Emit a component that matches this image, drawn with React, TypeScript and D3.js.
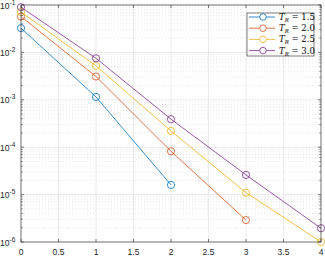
import React from 'react';
import * as d3 from 'd3';

const xValues = [0, 1, 2, 3, 4];
const seriesNames = ['1.5', '2.0', '2.5', '3.0'];
const seriesColors = ['#0072BD', '#D95319', '#EDB120', '#7E2F8E'];
const tr15 = [0.0325, 1.15e-3, 1.6e-5];
const tr20 = [0.057, 3.1e-3, 8.2e-5, 2.9e-6];
const tr25 = [0.071, 5.2e-3, 2.2e-4, 1.1e-5, 1.0e-6];
const tr30 = [0.09, 7.5e-3, 3.9e-4, 2.6e-5, 1.95e-6];
const xTicks = [0, 0.5, 1, 1.5, 2, 2.5, 3, 3.5, 4];
const yExponents = [-1, -2, -3, -4, -5, -6];

const W = 325;
const H = 257;
const margin = { top: 5, right: 4, bottom: 15, left: 21 };

export default function App() {
  const allSeries = [tr15, tr20, tr25, tr30];
  const x = d3.scaleLinear().domain([0, 4]).range([margin.left, W - margin.right]);
  const y = d3.scaleLog().domain([1e-6, 1e-1]).range([H - margin.bottom, margin.top]);
  const [x0, x1] = x.range();
  const [y1, y0] = y.range();

  const minorY: number[] = [];
  for (let e = -6; e < -1; e++) {
    for (let m = 2; m <= 9; m++) minorY.push(m * Math.pow(10, e));
  }

  const line = d3.line<number>()
    .x((_, i) => x(xValues[i]))
    .y(d => y(d));

  const axisColor = '#262626';
  const font = 'Liberation Sans, Arial, sans-serif';

  return (
    <div style={{ position: 'absolute', left: 0, top: 0 }}>
      <svg width={W} height={H} style={{ display: 'block', background: '#fff' }}>
        {/* minor grid */}
        {minorY.map(v => (
          <line key={'m' + v} x1={x0} x2={x1} y1={y(v)} y2={y(v)}
            stroke="#d6d6d6" strokeWidth={0.6} strokeDasharray="1,2" />
        ))}
        {/* major grid */}
        {xTicks.map(t => (
          <line key={'gx' + t} x1={x(t)} x2={x(t)} y1={y0} y2={y1} stroke="#e3e3e3" strokeWidth={0.7} />
        ))}
        {yExponents.map(e => (
          <line key={'gy' + e} x1={x0} x2={x1} y1={y(Math.pow(10, e))} y2={y(Math.pow(10, e))} stroke="#e3e3e3" strokeWidth={0.7} />
        ))}

        {/* series */}
        {allSeries.map((s, k) => (
          <g key={'s' + k}>
            <path d={line(s) || ''} fill="none" stroke={seriesColors[k]} strokeWidth={0.8} />
            {s.map((v, i) => (
              <circle key={i} cx={x(xValues[i])} cy={y(v)} r={3.6} fill="none" stroke={seriesColors[k]} strokeWidth={0.8} />
            ))}
          </g>
        ))}

        {/* axes box */}
        <rect x={x0} y={y0} width={x1 - x0} height={y1 - y0} fill="none" stroke={axisColor} strokeWidth={0.6} />
        {xTicks.map(t => (
          <g key={'tx' + t}>
            <line x1={x(t)} x2={x(t)} y1={y1} y2={y1 - 3} stroke={axisColor} strokeWidth={0.6} />
            <line x1={x(t)} x2={x(t)} y1={y0} y2={y0 + 3} stroke={axisColor} strokeWidth={0.6} />
            <text x={x(t)} y={H - 2} textAnchor="middle" fontFamily={font} fontSize={8.5} fill={axisColor}>{t}</text>
          </g>
        ))}
        {yExponents.map(e => {
          const yy = y(Math.pow(10, e));
          return (
            <g key={'ty' + e}>
              <line x1={x0} x2={x0 + 3} y1={yy} y2={yy} stroke={axisColor} strokeWidth={0.6} />
              <line x1={x1} x2={x1 - 3} y1={yy} y2={yy} stroke={axisColor} strokeWidth={0.6} />
              <text x={0} y={yy + 3.5} fontFamily={font} fontSize={8.5} fill={axisColor}>
                10<tspan dy={-4} fontSize={6.5}>{e}</tspan>
              </text>
            </g>
          );
        })}
        {minorY.map(v => (
          <g key={'mt' + v}>
            <line x1={x0} x2={x0 + 1.8} y1={y(v)} y2={y(v)} stroke={axisColor} strokeWidth={0.5} />
            <line x1={x1} x2={x1 - 1.8} y1={y(v)} y2={y(v)} stroke={axisColor} strokeWidth={0.5} />
          </g>
        ))}

        {/* legend */}
        <g transform="translate(247,13)">
          <rect x={0} y={0} width={67} height={43} fill="#fff" stroke={axisColor} strokeWidth={0.6} />
          {seriesNames.map((n, k) => {
            const ly = 4 + k * 11.2 + 0;
            return (
              <g key={'l' + n} transform={`translate(0,${ly})`}>
                <line x1={2} x2={28} y1={0} y2={0} stroke={seriesColors[k]} strokeWidth={0.8} />
                <circle cx={16} cy={0} r={3.3} fill="#fff" stroke={seriesColors[k]} strokeWidth={0.8} />
                <text x={32} y={3} fontFamily="DejaVu Serif, Liberation Serif, serif" fontSize={8.5} fill="#000">
                  <tspan fontStyle="italic">T</tspan>
                  <tspan fontStyle="italic" fontSize={5.5} dy={2}>R</tspan>
                  <tspan dy={-2}>{' = ' + n}</tspan>
                </text>
              </g>
            );
          })}
        </g>
      </svg>
    </div>
  );
}
